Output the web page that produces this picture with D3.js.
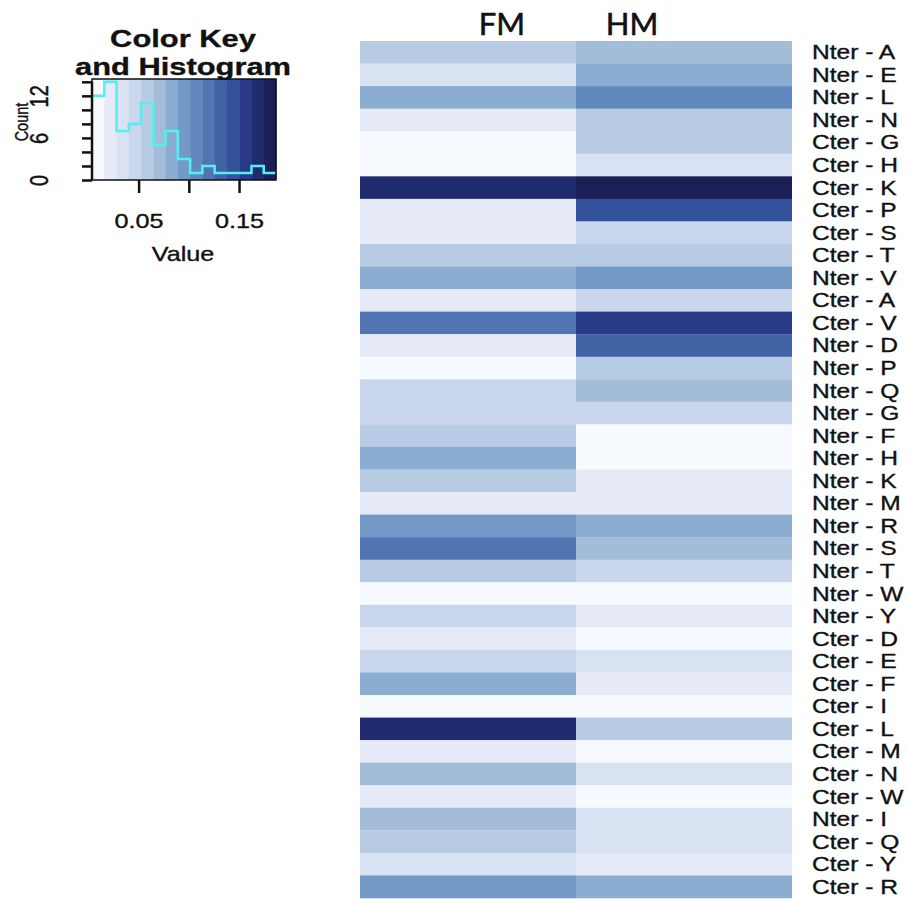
<!DOCTYPE html>
<html>
<head>
<meta charset="utf-8">
<script src="https://cdn.jsdelivr.net/npm/d3@7"></script>
<style>
  body { margin: 0; background: #fff; }
  text { font-family: "Liberation Sans", Arial, sans-serif; fill: #111; stroke: #111; stroke-width: 0.35px; }
</style>
</head>
<body>
<div id="chart"></div>
<script>
// columns and rows of the heatmap (order as shown, top to bottom)
var samples = ["FM", "HM"];
var rowLabels = ["Nter - A", "Nter - E", "Nter - L", "Nter - N", "Cter - G", "Cter - H", "Cter - K",
    "Cter - P", "Cter - S", "Cter - T", "Nter - V", "Cter - A", "Cter - V", "Nter - D", "Nter - P",
    "Nter - Q", "Nter - G", "Nter - F", "Nter - H", "Nter - K", "Nter - M", "Nter - R", "Nter - S",
    "Nter - T", "Nter - W", "Nter - Y", "Cter - D", "Cter - E", "Cter - F", "Cter - I", "Cter - L",
    "Cter - M", "Cter - N", "Cter - W", "Nter - I", "Cter - Q", "Cter - Y", "Cter - R"];

var fmValues = [0.058, 0.033, 0.083, 0.021, 0.009, 0.011, 0.168, 0.023, 0.020, 0.057,
    0.084, 0.022, 0.119, 0.024, 0.008, 0.046, 0.044, 0.059, 0.081, 0.056,
    0.019, 0.095, 0.121, 0.060, 0.010, 0.047, 0.022, 0.045, 0.082, 0.007,
    0.170, 0.021, 0.071, 0.024, 0.069, 0.058, 0.036, 0.094];
var hmValues = [0.071, 0.085, 0.107, 0.057, 0.059, 0.034, 0.181, 0.144, 0.047, 0.056,
    0.096, 0.045, 0.156, 0.132, 0.061, 0.072, 0.046, 0.010, 0.008, 0.021,
    0.023, 0.083, 0.070, 0.048, 0.012, 0.019, 0.009, 0.032, 0.022, 0.011,
    0.058, 0.013, 0.035, 0.006, 0.033, 0.031, 0.020, 0.086];

// color key range and number of colour breaks
var keyDomain = [0.0036, 0.1868];
var nBreaks = 15;
var palette = ["#f6f9fe", "#e5eaf6", "#d8e2f2", "#c9d6ec", "#b7cbe4", "#a3bdd9", "#8badd1",
    "#7399c7", "#6289bd", "#5174b2", "#4262a6", "#34519c", "#283a88", "#212c70", "#1c1f55"];
var keyTicks = [0.05, 0.10, 0.15];
var keyTickLabels = ["0.05", "", "0.15"];
var countTicks = [0, 2, 4, 6, 8, 10, 12, 14];
var countTickLabels = {0: "0", 6: "6", 12: "12"};

var width = 907, height = 900;
var stretch = 1.26;   // source picture is stretched sideways

var svg = d3.select("#chart").append("svg")
    .attr("width", width)
    .attr("height", height);

var cells = [];
rowLabels.forEach(function(r, i) {
    cells.push({row: r, col: "FM", value: fmValues[i]});
    cells.push({row: r, col: "HM", value: hmValues[i]});
});

var step = (keyDomain[1] - keyDomain[0]) / nBreaks;
var thresholds = d3.range(1, nBreaks).map(function(i) { return keyDomain[0] + i * step; });
var color = d3.scaleThreshold().domain(thresholds).range(palette);

// ---------- heatmap ----------
var x = d3.scaleBand().domain(samples).range([360, 792]);
var y = d3.scaleBand().domain(rowLabels).range([41, 898]);

svg.append("g").selectAll("rect")
    .data(cells)
    .enter().append("rect")
    .attr("x", function(d) { return x(d.col); })
    .attr("y", function(d) { return y(d.row); })
    .attr("width", x.bandwidth())
    .attr("height", y.bandwidth() + 0.3)
    .attr("fill", function(d) { return color(d.value); });

svg.append("g").selectAll("text")
    .data(rowLabels)
    .enter().append("text")
    .attr("transform", function(d) { return `translate(812,${y(d) + y.bandwidth() / 2 + 7}) scale(${stretch},1)`; })
    .style("font-size", "19.5px")
    .text(function(d) { return d; });

// column titles (placed by hand in the source)
var colTitleX = {FM: 502, HM: 632};
svg.append("g").selectAll("text")
    .data(samples)
    .enter().append("text")
    .attr("x", function(d) { return colTitleX[d]; })
    .attr("y", 35)
    .attr("text-anchor", "middle")
    .style("font-family", "Lato, 'Open Sans', sans-serif")
    .style("font-size", "31px")
    .style("stroke-width", "0.6px")
    .text(function(d) { return d; });

// ---------- color key + histogram ----------
var kx = d3.scaleLinear().domain(keyDomain).range([92, 276]);
var ky = d3.scaleLinear().domain([0, 14.4]).range([180, 79]);

var key = svg.append("g");

var edges = [keyDomain[0]].concat(thresholds).concat([keyDomain[1]]);
key.selectAll("rect.stripe")
    .data(palette)
    .enter().append("rect")
    .attr("class", "stripe")
    .attr("x", function(d, i) { return kx(edges[i]); })
    .attr("y", ky.range()[1])
    .attr("width", function(d, i) { return kx(edges[i + 1]) - kx(edges[i]) + 0.4; })
    .attr("height", ky.range()[0] - ky.range()[1])
    .attr("fill", function(d) { return d; });

var allValues = fmValues.concat(hmValues);
var bins = d3.bin().domain(keyDomain).thresholds(thresholds)(allValues);
var histPts = bins.map(function(b) { return [b.x0, b.length]; });
histPts.push([keyDomain[1], bins[bins.length - 1].length]);

key.append("path")
    .datum(histPts)
    .attr("fill", "none")
    .attr("stroke", "#52f0f0")
    .attr("stroke-width", 2.5)
    .attr("d", d3.line()
        .curve(d3.curveStepAfter)
        .x(function(d) { return kx(d[0]); })
        .y(function(d) { return ky(d[1]); }));

key.append("rect")
    .attr("x", 92).attr("y", 79)
    .attr("width", 184).attr("height", 101)
    .attr("fill", "none")
    .attr("stroke", "#111")
    .attr("stroke-width", 1.5);

var xAxis = key.append("g")
    .attr("transform", "translate(0,180)")
    .call(d3.axisBottom(kx).tickValues(keyTicks).tickSize(13).tickFormat(""));
xAxis.select(".domain").remove();
xAxis.selectAll(".tick line").attr("stroke", "#111").attr("stroke-width", 2.5);
xAxis.selectAll(".tick").append("text")
    .attr("transform", `translate(0,48) scale(${stretch},1)`)
    .attr("text-anchor", "middle")
    .style("font-size", "20px")
    .text(function(d, i) { return keyTickLabels[i]; });

var yAxis = key.append("g")
    .attr("transform", "translate(92,0)")
    .call(d3.axisLeft(ky).tickValues(countTicks).tickSize(10).tickFormat(""));
yAxis.select(".domain").attr("stroke", "#111").attr("stroke-width", 2.5)
    .attr("d", `M0,${ky(0)}V${ky(14)}`);
yAxis.selectAll(".tick line").attr("stroke", "#111").attr("stroke-width", 2.5);
yAxis.selectAll(".tick").append("text")
    .attr("transform", `translate(-44,0) scale(${stretch},1) rotate(-90)`)
    .attr("text-anchor", "middle")
    .style("font-size", "20px")
    .text(function(d) { return countTickLabels[d] || ""; });

key.append("text")
    .attr("transform", `translate(28,122) scale(${stretch},1) rotate(-90)`)
    .attr("text-anchor", "middle")
    .style("font-size", "14.5px")
    .text("Count");

key.append("text")
    .attr("transform", `translate(183,261) scale(${stretch},1)`)
    .attr("text-anchor", "middle")
    .style("font-size", "20px")
    .text("Value");

key.append("text")
    .attr("transform", `translate(183,47) scale(${stretch},1)`)
    .attr("text-anchor", "middle")
    .style("font-size", "24.5px")
    .style("font-weight", "bold")
    .text("Color Key");
key.append("text")
    .attr("transform", `translate(183,75) scale(${stretch},1)`)
    .attr("text-anchor", "middle")
    .style("font-size", "24.5px")
    .style("font-weight", "bold")
    .text("and Histogram");
</script>
</body>
</html>
